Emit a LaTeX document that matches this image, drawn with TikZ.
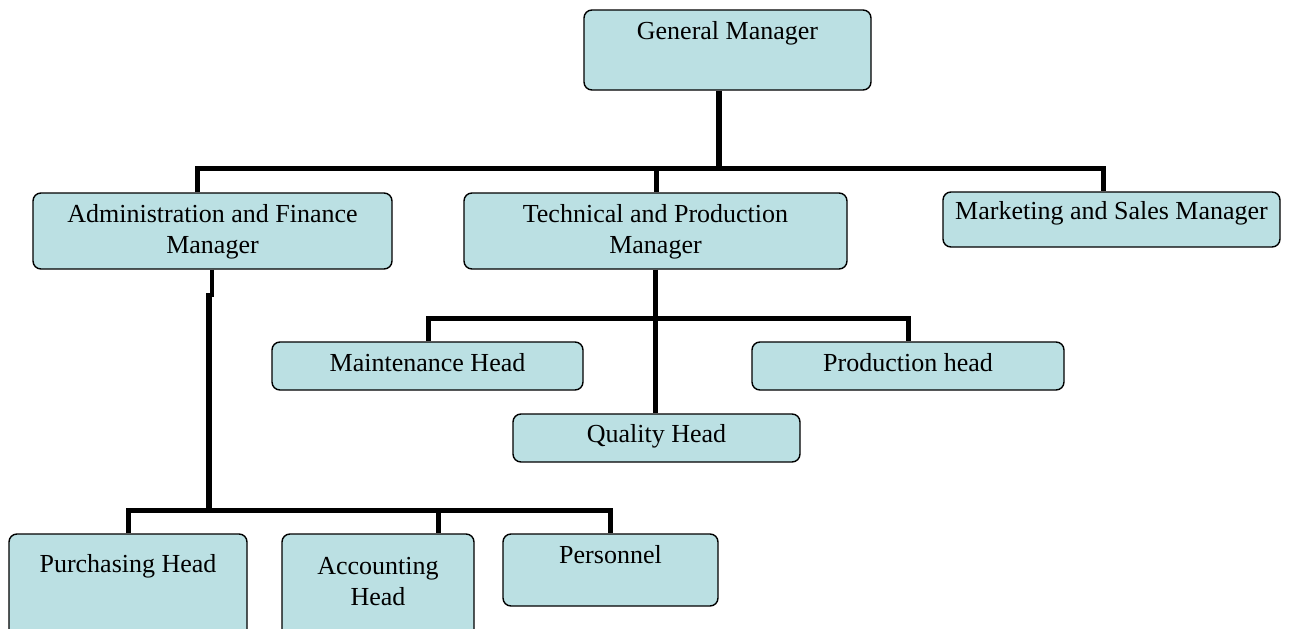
\documentclass[tikz,border=0pt]{standalone}
\usepackage{fontspec}
\setmainfont{Liberation Serif}
\definecolor{boxc}{RGB}{187,224,227}
\tikzset{
  box/.style={draw=black, fill=boxc, line width=1.4pt, rounded corners=8pt, inner sep=0pt},
  lbl/.style={inner sep=0pt, align=center, font=\fontsize{26}{31}\selectfont},
  conn/.style={draw=black, line width=5pt, line join=miter, line cap=butt}
}
\begin{document}
\begin{tikzpicture}[x=1pt,y=-1pt]
\useasboundingbox (0,0) rectangle (1291,629);
% boxes
\node[box, minimum width=287pt, minimum height=80pt] (gm) at (727.5,50) {};
\node[box, minimum width=359pt, minimum height=76pt] (admin) at (212.5,231) {};
\node[box, minimum width=383pt, minimum height=76pt] (tech) at (655.5,231) {};
\node[box, minimum width=337pt, minimum height=55pt] (mkt) at (1111.5,219.5) {};
\node[box, minimum width=311pt, minimum height=48pt] (maint) at (427.5,366) {};
\node[box, minimum width=312pt, minimum height=48pt] (prod) at (908,366) {};
\node[box, minimum width=287pt, minimum height=48pt] (qual) at (656.5,438) {};
\node[box, minimum width=238pt, minimum height=116pt] (purch) at (128,592) {};
\node[box, minimum width=192pt, minimum height=116pt] (acct) at (378,592) {};
\node[box, minimum width=215pt, minimum height=72pt] (pers) at (610.5,570) {};
% labels
\node[lbl] (tgm) at (727.5,33) {General Manager};
\node[lbl] (tadmin) at (212.5,231.5) {Administration and Finance\\Manager};
\node[lbl] (ttech) at (655.5,231.5) {Technical and Production\\Manager};
\node[lbl] (tmkt) at (1111.5,213) {Marketing and Sales Manager};
\node[lbl] (tmaint) at (427.5,363) {Maintenance Head};
\node[lbl] (tprod) at (908,363) {Production head};
\node[lbl] (tqual) at (656.5,436) {Quality Head};
\node[lbl] (tpurch) at (128,566) {Purchasing Head};
\node[lbl] (tacct) at (378,581.5) {Accounting\\Head};
\node[lbl] (tpers) at (610.5,555) {Personnel};
% bus coordinates
\coordinate (g1) at (719,168);
\coordinate (bL) at (197,168);
\coordinate (bT) at (656,168);
\coordinate (bR) at (1103,168);
\coordinate (a1) at (212,297);
\coordinate (a2) at (209,293);
\coordinate (a3) at (209,510);
\coordinate (cL) at (128,510);
\coordinate (cM) at (438,510);
\coordinate (cR) at (610,510);
\coordinate (dL) at (428,318);
\coordinate (dR) at (908,318);
% connectors
\draw[conn, line width=6pt] (g1 |- gm.south) -- (g1);
\draw[conn] (bL |- admin.north) -- (bL) -- (bR) -- (bR |- mkt.north);
\draw[conn] (bT) -- (bT |- tech.north);
\draw[conn, line width=4pt] (a1 |- admin.south) -- (a1);
\draw[conn, line width=6pt] (a2) -- (a3);
\draw[conn] (cL |- purch.north) -- (cL) -- (cR) -- (cR |- pers.north);
\draw[conn] (cM) -- (cM |- acct.north);
\draw[conn] (tech.south) -- (qual.north -| tech.south);
\draw[conn] (dL |- maint.north) -- (dL) -- (dR) -- (dR |- prod.north);
\end{tikzpicture}
\end{document}
